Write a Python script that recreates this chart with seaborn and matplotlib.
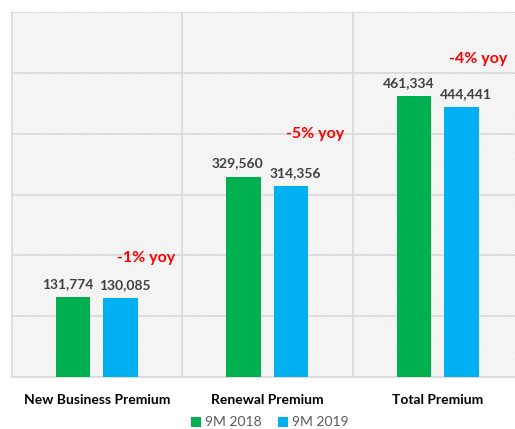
import pandas as pd
import matplotlib
matplotlib.use("Agg")
import matplotlib.pyplot as plt
from matplotlib.patches import Rectangle
import seaborn as sns

categories = ["New Business Premium", "Renewal Premium", "Total Premium"]
periods = ["9M 2018", "9M 2019"]
values_2018 = [131774, 329560, 461334]
values_2019 = [130085, 314356, 444441]
yoy_labels = ["-1% yoy", "-5% yoy", "-4% yoy"]
yoy_x = [0.29, 1.28, 2.24]
yoy_y = [195000, 399000, 522000]

df = pd.DataFrame({
    "category": categories * 2,
    "period": [periods[0]] * 3 + [periods[1]] * 3,
    "value": values_2018 + values_2019,
})

sns.set_style("white")
plt.rcParams["font.family"] = ["Lato", "DejaVu Sans"]
plt.rcParams["hatch.linewidth"] = 0.5

fig = plt.figure(figsize=(5.15, 4.29), dpi=100)
ax = fig.add_axes([11.5 / 515, 52 / 429, 511.5 / 515, 365 / 429])

# hatched plot background
ax.add_patch(Rectangle((0, 0), 1, 1, transform=ax.transAxes, facecolor="white",
                       edgecolor="#e6e6e6", hatch="\\" * 14, lw=0, zorder=0))

sns.barplot(data=df, x="category", y="value", hue="period",
            palette=["#00B050", "#00B0F0"], width=0.56, gap=0.28,
            saturation=1, linewidth=0, ax=ax, legend=True, zorder=3)

# value labels, nudged apart like the original
for cont, dx in zip(ax.containers, [-4, 3]):
    for bar, v in zip(cont, cont.datavalues):
        ax.annotate(f"{v:,.0f}", (bar.get_x() + bar.get_width() / 2, v),
                    xytext=(dx, 5), textcoords="offset points", ha="center", va="bottom",
                    fontsize=10, fontweight="bold", color="#404040", zorder=4)

for x, y, t in zip(yoy_x, yoy_y, yoy_labels):
    ax.text(x, y, t, ha="center", va="center", color="#FF0000",
            fontsize=11.5, fontweight="bold", zorder=4)

ax.set_ylim(0, 600000)
ax.set_xlim(-0.5, 2.5)
ax.set_yticks(range(0, 600001, 100000))
ax.set_yticklabels([])
ax.tick_params(axis="y", length=0)
ax.set_xticks([0.5, 1.5], minor=True)
ax.grid(axis="y", color="#d9d9d9", lw=1.2, zorder=1)
ax.grid(axis="x", which="minor", color="#d9d9d9", lw=1.2, zorder=1)
ax.set_axisbelow(True)
ax.set_xlabel("")
ax.set_ylabel("")
ax.tick_params(axis="x", which="both", length=0, pad=12)
for lbl in ax.get_xticklabels():
    lbl.set_fontweight("bold")
    lbl.set_fontsize(10)
    lbl.set_color("#000000")
for s in ["top", "right"]:
    ax.spines[s].set_visible(False)
for s in ["left", "bottom"]:
    ax.spines[s].set_color("#d9d9d9")
    ax.spines[s].set_linewidth(1.2)

handles, labels = ax.get_legend_handles_labels()
ax.get_legend().remove()
fig.legend(handles, labels, loc="upper center", bbox_to_anchor=(270 / 515, 25 / 429),
           ncol=2, frameon=False, handlelength=0.7, handleheight=0.7,
           handletextpad=0.3, columnspacing=1.2, fontsize=10, labelcolor="#595959")

fig.savefig("out.png", dpi=100)
